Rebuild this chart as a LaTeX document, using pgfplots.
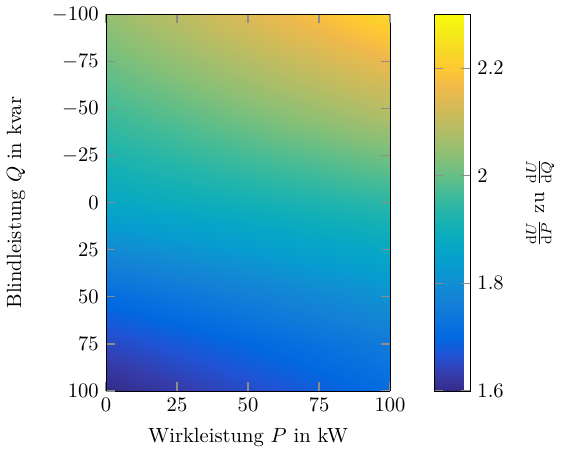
\documentclass[border=0pt]{standalone}
\usepackage{pgfplots}
\pgfplotsset{compat=1.18}
\pgfplotsset{
colormap={parula}{
rgb=(0.2081,0.1663,0.5292)
rgb=(0.2081,0.2386,0.6771)
rgb=(0.1253,0.3242,0.8303)
rgb=(0.0060,0.4086,0.8828)
rgb=(0.0498,0.4586,0.8641)
rgb=(0.0779,0.5040,0.8384)
rgb=(0.0641,0.5570,0.8240)
rgb=(0.0265,0.6137,0.8135)
rgb=(0.0228,0.6535,0.7768)
rgb=(0.0590,0.6838,0.7254)
rgb=(0.1453,0.7098,0.6646)
rgb=(0.2586,0.7317,0.5954)
rgb=(0.3953,0.7459,0.5244)
rgb=(0.5300,0.7491,0.4661)
rgb=(0.6473,0.7456,0.4188)
rgb=(0.7525,0.7384,0.3768)
rgb=(0.8507,0.7299,0.3360)
rgb=(0.9450,0.7261,0.2886)
rgb=(0.9955,0.7861,0.1967)
rgb=(0.9697,0.8481,0.1475)
rgb=(0.9598,0.9218,0.0948)
rgb=(0.9763,0.9831,0.0538)
}}
\begin{document}
\begin{tikzpicture}
\begin{axis}[
  scale only axis,
  width=138pt, height=183pt,
  xmin=0, xmax=100, ymin=-100, ymax=100,
  y dir=reverse,
  enlargelimits=false,
  view={0}{90},
  xtick={0,25,50,75,100},
  ytick={-100,-75,-50,-25,0,25,50,75,100},
  tick style={black!45, semithick},
  axis on top,
  xlabel={Wirkleistung $P$ in kW},
  xlabel style={yshift=-1pt},
  ylabel={Blindleistung $Q$ in kvar},
  ylabel style={yshift=6pt},
  colormap name=parula,
  point meta min=1.6, point meta max=2.3,
  colorbar,
  colorbar style={
    at={(parent axis.north east)}, anchor=north west, xshift=13pt,
    width=17.4pt,
    ytick={1.6,1.8,2,2.2},
    yticklabels={1.6,1.8,2,2.2},
    ylabel={$\frac{\mathrm{d}U}{\mathrm{d}P}$ zu $\frac{\mathrm{d}U}{\mathrm{d}Q}$},
    ylabel style={yshift=-4pt},
  },
]
\addplot3[surf, shader=interp, mesh/rows=9, mesh/ordering=x varies] table {
x y z
0 -100 2.050
25 -100 2.095
50 -100 2.140
75 -100 2.185
100 -100 2.230
0 -75 2.010
25 -75 2.048
50 -75 2.085
75 -75 2.123
100 -75 2.160
0 -50 1.965
25 -50 1.996
50 -50 2.028
75 -50 2.059
100 -50 2.090
0 -25 1.920
25 -25 1.944
50 -25 1.968
75 -25 1.991
100 -25 2.015
0 0 1.870
25 0 1.888
50 0 1.905
75 0 1.923
100 0 1.940
0 25 1.790
25 25 1.811
50 25 1.833
75 25 1.854
100 25 1.875
0 50 1.710
25 50 1.735
50 50 1.760
75 50 1.785
100 50 1.810
0 75 1.650
25 75 1.675
50 75 1.700
75 75 1.725
100 75 1.750
0 100 1.600
25 100 1.628
50 100 1.655
75 100 1.683
100 100 1.710
};
\end{axis}
\end{tikzpicture}
\end{document}
